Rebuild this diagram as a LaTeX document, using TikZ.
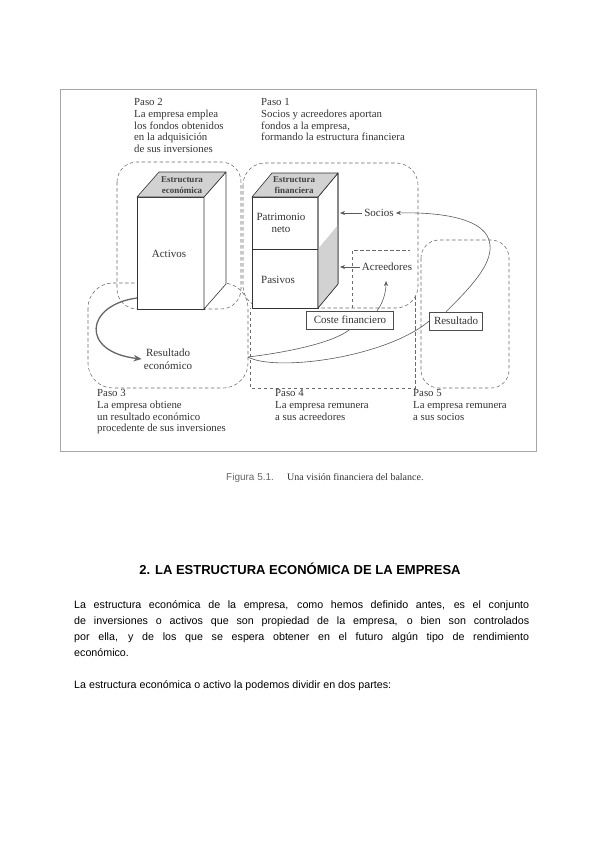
\documentclass[tikz,border=0pt]{standalone}
\usepackage{fontspec}
\setmainfont{Liberation Serif}
\newfontfamily\arialf{Liberation Sans}
\usetikzlibrary{arrows.meta}
\definecolor{ink}{HTML}{333333}
\definecolor{dline}{HTML}{6A6A6A}
\begin{document}
\begin{tikzpicture}[x=1pt,y=-1pt,
  region/.style={draw=dline, line width=0.55pt, dash pattern=on 3.5pt off 2.5pt, rounded corners=#1},
  region/.default=20pt,
  figtxt/.style={font=\fontsize{10.8}{11.7}\selectfont, text=ink, align=left, inner sep=0pt, anchor=north west},
  cube/.style={draw=black!80, line width=0.6pt, line join=round},
  shadeface/.style={cube, fill=gray!35},
  whiteface/.style={cube, fill=white},
  lbl/.style={font=\fontsize{11}{12}\selectfont, text=ink, inner sep=2pt},
  toplbl/.style={font=\bfseries\fontsize{9}{10.5}\selectfont, text=black!75, align=center, inner sep=0pt},
  boxlbl/.style={lbl, draw=black!70, fill=white, line width=0.5pt, minimum height=18pt},
  flow/.style={draw=black!65, line width=0.6pt},
  tiparrow/.style={-{Stealth[length=5pt,width=4pt]}},
  fat/.style={draw=black!60, line width=1.3pt, -{Stealth[length=8pt,width=6.5pt]}}
]
\useasboundingbox (0,0) rectangle (600,848);

% frame
\draw[gray!70, line width=0.8pt] (60,89) rectangle (536,451);

% dashed regions
\draw[region] (117,162) rectangle (241,309);
\draw[region=22pt] (243,163) rectangle (418,308);
\draw[region=25pt] (88,283) rectangle (248,388);
\draw[region=18pt] (421,240) rectangle (509,388);
\draw[region=0pt] (352,308) -- (352,250) -- (410,250);
\draw[region=0pt] (415,296) -- (415,388) -- (250,388) -- (250,308);

% left cube
\filldraw[whiteface] (137,197) rectangle (204,309);
\filldraw[whiteface] (204,197) -- (226,172) -- (226,284) -- (204,309) -- cycle;
\filldraw[shadeface] (137,197) -- (159,172) -- (226,172) -- (204,197) -- cycle;
\node[toplbl] (ee) at (182,185) {Estructura\\económica};
\node[lbl] (act) at (169,254) {Activos};

% right cube
\filldraw[whiteface] (252,197) rectangle (318,308);
\draw[cube] (252,249) -- (318,249);
\filldraw[whiteface] (318,197) -- (338,173) -- (338,284) -- (318,308) -- cycle;
\fill[gray!35] (318,249) -- (338,225) -- (338,284) -- (318,308) -- cycle;
\draw[cube] (318,197) -- (338,173) -- (338,284) -- (318,308) -- cycle;
\filldraw[shadeface] (252,197) -- (272,173) -- (338,173) -- (318,197) -- cycle;
\node[toplbl] (ef) at (294,185) {Estructura\\financiera};
\node[lbl, align=center, font=\fontsize{11}{12.5}\selectfont] (pn) at (281,223) {Patrimonio\\neto};
\node[lbl] (pas) at (278,280) {Pasivos};

% labels
\node[lbl] (soc) at (379,213) {Socios};
\node[lbl] (acr) at (387,267) {Acreedores};
\node[boxlbl, minimum width=87pt] (cf) at (350,320) {Coste financiero};
\node[boxlbl, minimum width=53pt] (res) at (456,321) {Resultado};
\node[lbl, align=center, font=\fontsize{11}{12.5}\selectfont] (rec) at (168,359) {Resultado\\económico};

\coordinate (sideS) at (340,213);
\coordinate (sideA) at (340,267);
\coordinate (actL) at (137,298);
\coordinate (r3e) at (248,357);
\coordinate (acrS) at (386,281);

% connectors
\draw[flow, tiparrow] (soc.west) -- (sideS);
\draw[flow, tiparrow] (acr.west) -- (sideA);
\draw[fat] (actL) .. controls (85,305) and (80,352) .. (rec.west);
\draw[flow] (r3e) .. controls (290,352) and (335,342) .. (cf.south);
\draw[flow] (r3e) .. controls (275,372) and (385,358) .. (res.west);
\draw[flow, tiparrow] ([xshift=27pt]cf.north) .. controls (383,303) and (386,292) .. (acrS);
\draw[flow, tiparrow] ([xshift=-10pt]res.north) .. controls (470,288) and (492,265) .. (490,245)
   .. controls (488,218) and (440,212) .. (soc.east);

% step texts
\node[figtxt] (p2) at (134,98.5) {Paso 2\\La empresa emplea\\los fondos obtenidos\\en la adquisición\\de sus inversiones};
\node[figtxt] (p1) at (261,98.5) {Paso 1\\Socios y acreedores aportan\\fondos a la empresa,\\formando la estructura financiera};
\node[figtxt] (p3) at (97,389.5) {Paso 3\\La empresa obtiene\\un resultado económico\\procedente de sus inversiones};
\node[figtxt] (p4) at (275,389.5) {Paso 4\\La empresa remunera\\a sus acreedores};
\node[figtxt] (p5) at (413,389.5) {Paso 5\\La empresa remunera\\a sus socios};

% caption
\node[anchor=base west, inner sep=0pt, font=\arialf\fontsize{10}{12}\selectfont, text=black!60] (figlab) at (226,480) {Figura 5.1.};
\node[anchor=base west, inner sep=0pt, font=\fontsize{10}{12}\selectfont, text=ink] (figcap) at (287,480) {Una visión financiera del balance.};

% heading
\node[anchor=base, inner sep=0pt, font=\arialf\bfseries\fontsize{13}{15}\selectfont] (head) at (300,574) {2. LA ESTRUCTURA ECONÓMICA DE LA EMPRESA};

% body
\node[anchor=north west, inner sep=0pt, text width=455pt, align=justify, font=\arialf\fontsize{10.7}{16}\selectfont] (body) at (74,600) {\setlength{\parindent}{0pt}\setlength{\parskip}{0pt}La estructura económica de la empresa, como hemos definido antes, es el conjunto\linebreak de inversiones o activos que son propiedad de la empresa, o bien son controlados\linebreak por ella, y de los que se espera obtener en el futuro algún tipo de rendimiento\linebreak económico.\par\vspace{16pt}La estructura económica o activo la podemos dividir en dos partes:};
\end{tikzpicture}
\end{document}
